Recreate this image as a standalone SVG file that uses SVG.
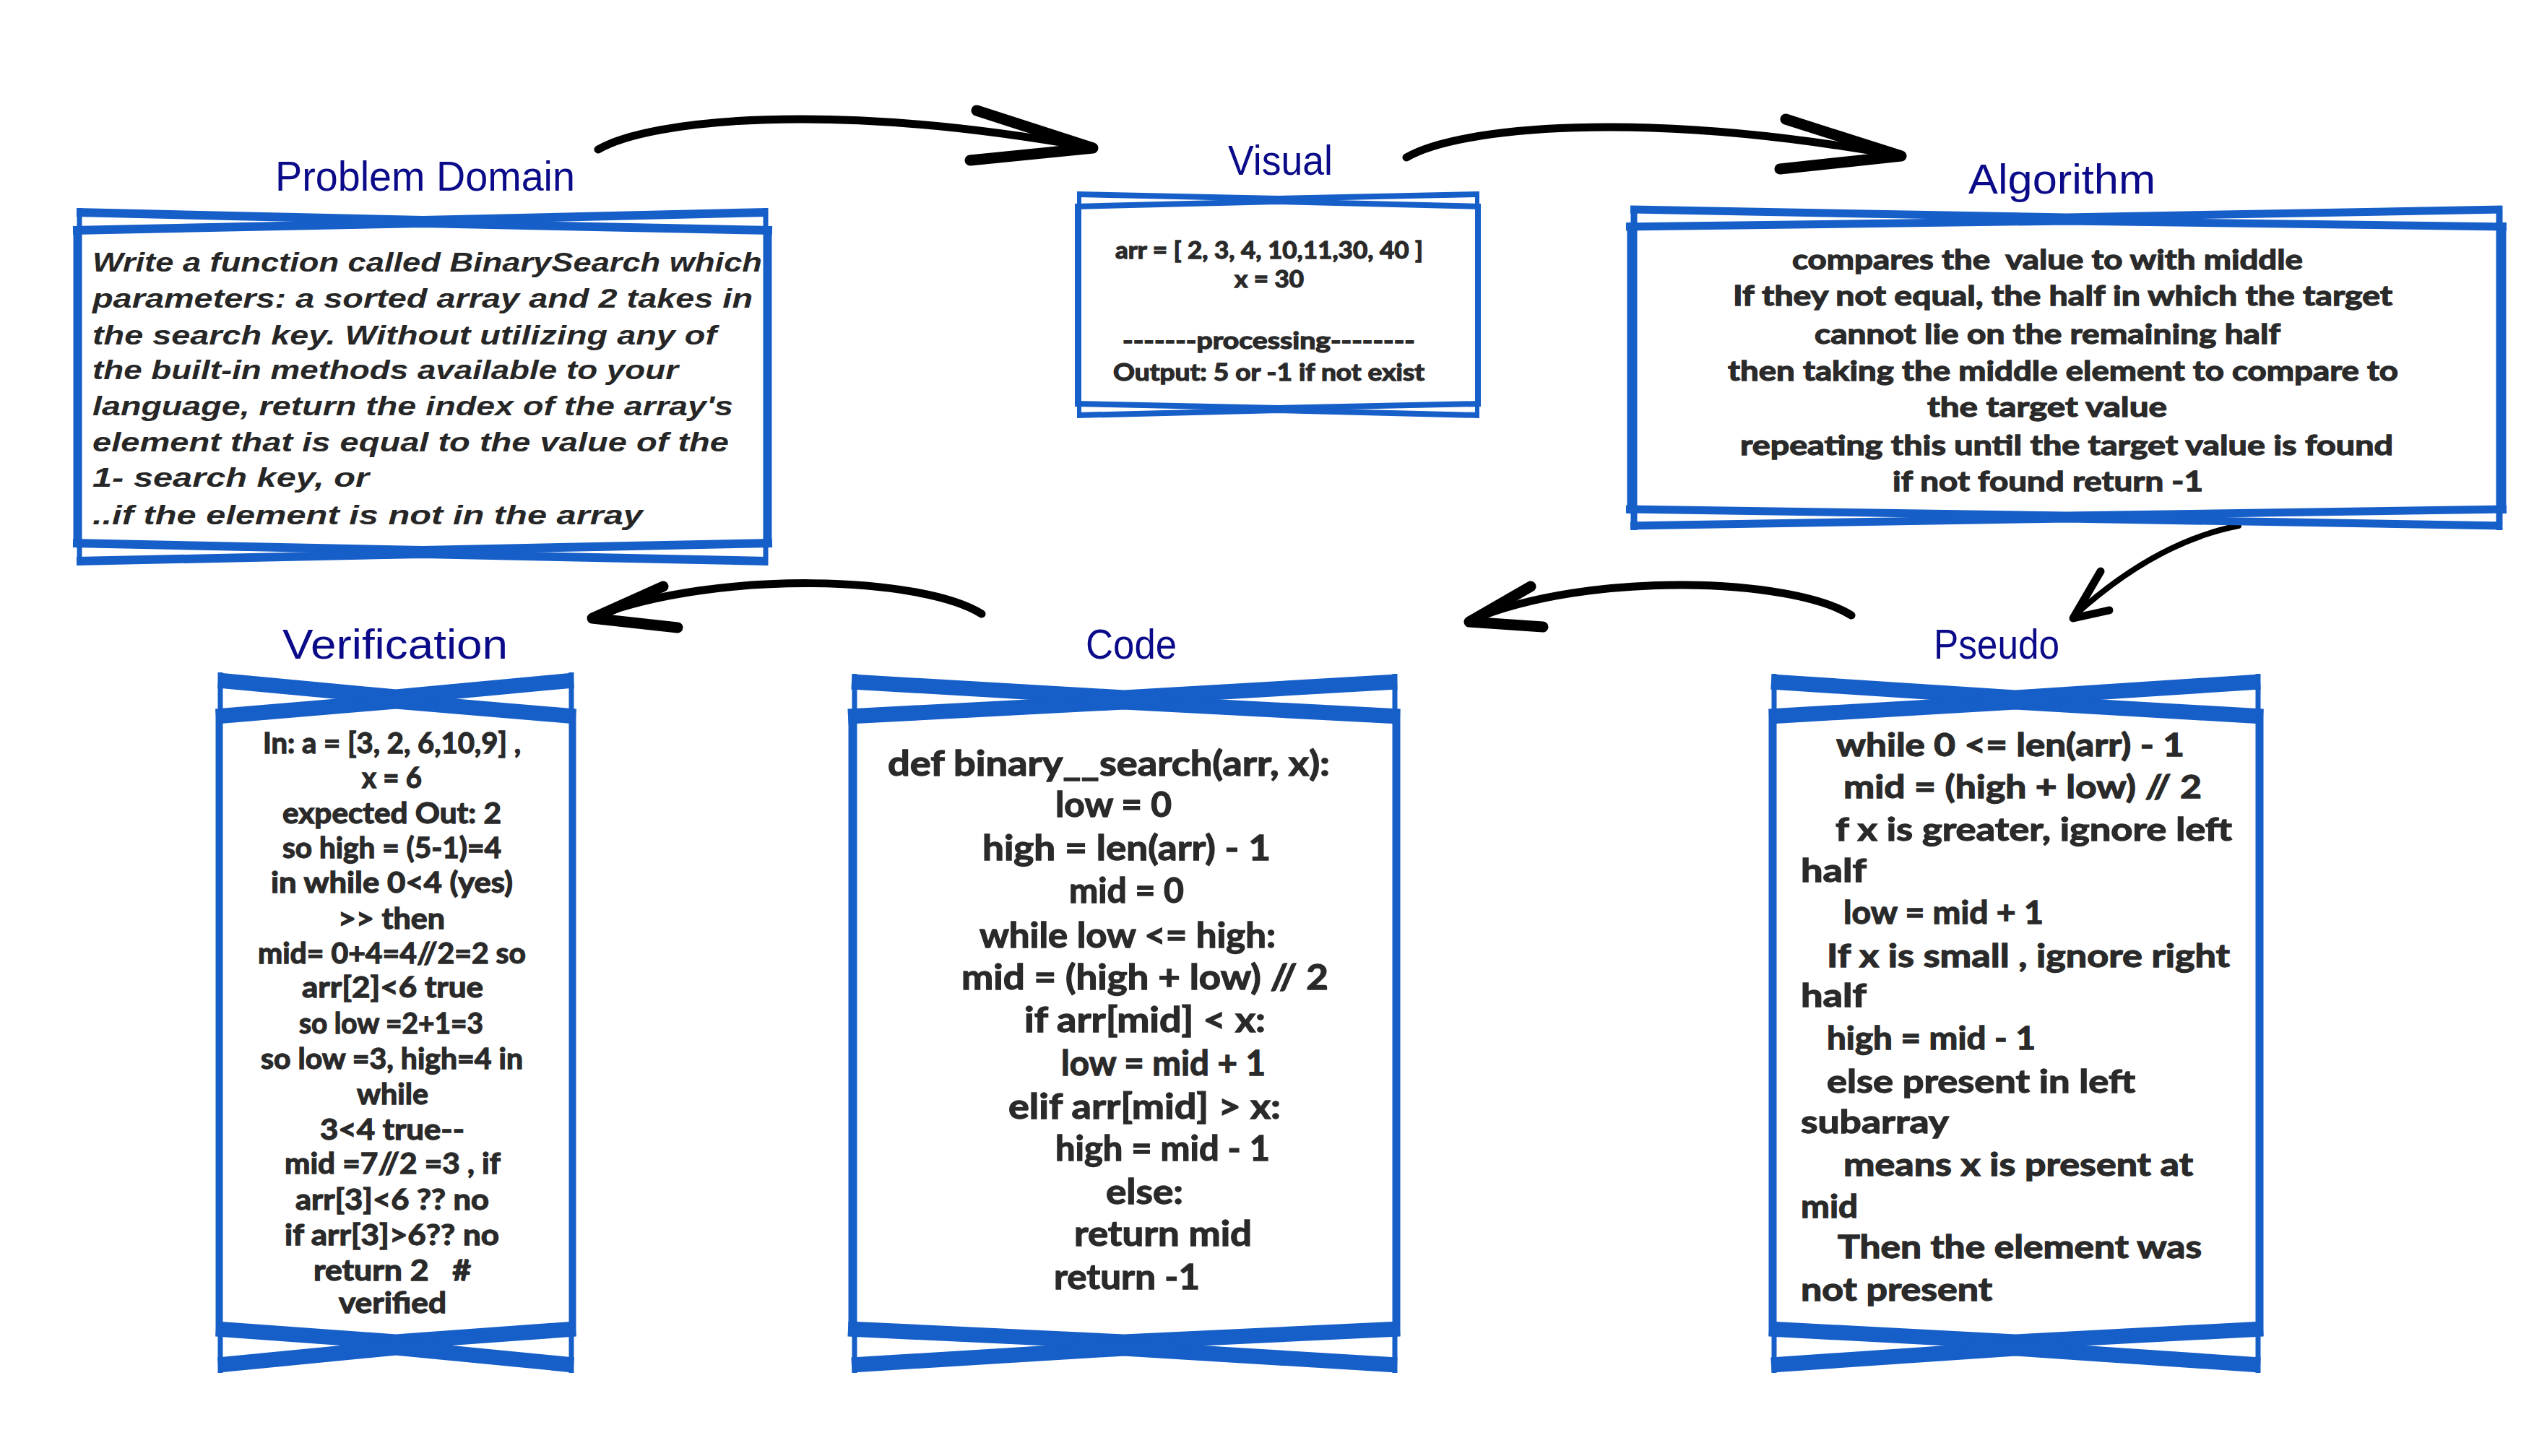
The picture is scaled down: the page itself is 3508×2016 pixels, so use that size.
<svg xmlns="http://www.w3.org/2000/svg" width="3508" height="2016" viewBox="0 0 3508 2016">
<style>
.bg{fill:#ffffff}
.bt{fill:none;stroke:#165ec8;stroke-width:12;stroke-linejoin:round}
.bb{fill:none;stroke:#165ec8;stroke-width:21;stroke-linejoin:round}
.bv{fill:none;stroke:#165ec8;stroke-width:7}
.title{font-family:"Liberation Sans","DejaVu Sans",sans-serif;font-size:57px;fill:#0b0b8a}
.pd{font-family:"Liberation Sans","DejaVu Sans",sans-serif;font-size:37px;font-weight:700;font-style:italic;fill:#262626}
.body{font-family:Lato,"Open Sans","Liberation Sans",sans-serif;font-weight:700;fill:#2a2a2a;stroke:#2a2a2a;stroke-width:1.3}
.shaft{fill:none;stroke:#000;stroke-width:11;stroke-linecap:round;stroke-linejoin:round}
.head{fill:none;stroke:#000;stroke-width:15;stroke-linecap:round;stroke-linejoin:round}
</style>
<rect class="bg" x="0" y="0" width="3508" height="2016"/>

<g id="connectors">
  <g id="arrow-problem-visual">
    <path class="shaft" d="M828,207 C900,165 1150,140 1508,204"/>
    <path class="head" d="M1352,153 L1513,205 L1343,222"/>
  </g>
  <g id="arrow-visual-algorithm">
    <path class="shaft" d="M1947,218 C2019,176 2269,151 2627,215"/>
    <path class="head" d="M2472,165 L2632,216 L2464,234"/>
  </g>
  <g id="arrow-algorithm-pseudo">
    <path class="shaft" style="stroke-width:8" d="M3099,728 Q2985,750 2872,852"/>
    <path class="head" style="stroke-width:11" d="M2908,791 L2870,856 L2920,845"/>
  </g>
  <g id="arrow-pseudo-code">
    <path class="shaft" d="M2563,852 C2480,800 2200,790 2038,858"/>
    <path class="head" d="M2119,812 L2034,861 L2136,868"/>
  </g>
  <g id="arrow-code-verification">
    <path class="shaft" d="M1359,850 C1276,798 996,788 824,853"/>
    <path class="head" d="M918,812 L820,856 L938,869"/>
  </g>
</g>

<g id="node-problem-domain">
  <text class="title" x="381" y="264" textLength="415" lengthAdjust="spacingAndGlyphs">Problem Domain</text>
  <path class="bt" d="M106,294 L585,305 L1063,294"/>
  <path class="bt" d="M101,319 L585,309 L1069,319"/>
  <path class="bt" d="M101,752 L585,762 L1069,752"/>
  <path class="bt" d="M106,777 L585,767 L1063,777"/>
  <path class="bv" d="M110,288 V783 M1060,288 V783 M105,313 V758 M1065,313 V758"/>
  <text class="pd" x="128" y="376" textLength="927" lengthAdjust="spacingAndGlyphs">Write a function called BinarySearch which</text>
  <text class="pd" x="128" y="426" textLength="914" lengthAdjust="spacingAndGlyphs">parameters: a sorted array and 2 takes in</text>
  <text class="pd" x="128" y="477" textLength="864" lengthAdjust="spacingAndGlyphs">the search key. Without utilizing any of</text>
  <text class="pd" x="128" y="525" textLength="811" lengthAdjust="spacingAndGlyphs">the built-in methods available to your</text>
  <text class="pd" x="128" y="575" textLength="887" lengthAdjust="spacingAndGlyphs">language, return the index of the array's</text>
  <text class="pd" x="128" y="625" textLength="881" lengthAdjust="spacingAndGlyphs">element that is equal to the value of the</text>
  <text class="pd" x="128" y="674" textLength="383" lengthAdjust="spacingAndGlyphs">1- search key, or</text>
  <text class="pd" x="128" y="726" textLength="762" lengthAdjust="spacingAndGlyphs">..if the element is not in the array</text>
</g>

<g id="node-visual">
  <text class="title" x="1700" y="242" textLength="145" lengthAdjust="spacingAndGlyphs">Visual</text>
  <path class="bt" style="stroke-width:8" d="M1491,269 L1770,275 L2048,269"/>
  <path class="bt" style="stroke-width:8" d="M1488,286 L1770,279 L2050,286"/>
  <path class="bt" style="stroke-width:8" d="M1488,559 L1770,565 L2050,559"/>
  <path class="bt" style="stroke-width:8" d="M1491,575 L1770,568 L2048,575"/>
  <path class="bv" style="stroke-width:6" d="M1494,266 V578 M2045,266 V578 M1491,283 V562 M2047,283 V562"/>
  <g class="body" font-size="32">
    <text x="1544" y="358" textLength="426" lengthAdjust="spacingAndGlyphs">arr = [ 2, 3, 4, 10,11,30, 40 ]</text>
    <text x="1709" y="398" textLength="96" lengthAdjust="spacingAndGlyphs">x = 30</text>
    <text x="1554" y="483" textLength="405" lengthAdjust="spacingAndGlyphs">-------processing--------</text>
    <text x="1541" y="527" textLength="431" lengthAdjust="spacingAndGlyphs">Output: 5 or -1 if not exist</text>
  </g>
</g>

<g id="node-algorithm">
  <text class="title" x="2725" y="268" textLength="259" lengthAdjust="spacingAndGlyphs">Algorithm</text>
  <path class="bt" style="stroke-width:11" d="M2257,290 L2861,301 L3464,290"/>
  <path class="bt" style="stroke-width:11" d="M2251,314 L2861,306 L3470,314"/>
  <path class="bt" style="stroke-width:11" d="M2251,705 L2861,714 L3470,705"/>
  <path class="bt" style="stroke-width:11" d="M2257,728 L2861,718 L3464,728"/>
  <path class="bv" style="stroke-width:9" d="M2262,285 V734 M3460,285 V734 M2257,308 V711 M3465,308 V711"/>
  <g class="body" font-size="38">
    <text x="2481" y="373" textLength="707" lengthAdjust="spacingAndGlyphs" style="white-space:pre">compares the  value to with middle</text>
    <text x="2399" y="423" textLength="913" lengthAdjust="spacingAndGlyphs">If they not equal, the half in which the target</text>
    <text x="2512" y="476" textLength="645" lengthAdjust="spacingAndGlyphs">cannot lie on the remaining half</text>
    <text x="2392" y="527" textLength="928" lengthAdjust="spacingAndGlyphs">then taking the middle element to compare to</text>
    <text x="2668" y="577" textLength="332" lengthAdjust="spacingAndGlyphs">the target value</text>
    <text x="2409" y="630" textLength="904" lengthAdjust="spacingAndGlyphs">repeating this until the target value is found</text>
    <text x="2620" y="680" textLength="430" lengthAdjust="spacingAndGlyphs">if not found return -1</text>
  </g>
</g>

<g id="node-verification">
  <text class="title" x="391" y="912" textLength="312" lengthAdjust="spacingAndGlyphs">Verification</text>
  <path class="bb" d="M302,942 L548,965 L794,942"/>
  <path class="bb" d="M299,992 L548,971 L797,992"/>
  <path class="bb" d="M299,1840 L548,1858 L797,1840"/>
  <path class="bb" d="M302,1890 L548,1866 L794,1890"/>
  <path class="bv" d="M305,931 V1901 M791,931 V1901 M302,982 V1850 M794,982 V1850"/>
  <g class="body" font-size="40">
    <text x="364" y="1043" textLength="357" lengthAdjust="spacingAndGlyphs">In: a = [3, 2, 6,10,9] ,</text>
    <text x="501" y="1091" textLength="83" lengthAdjust="spacingAndGlyphs">x = 6</text>
    <text x="391" y="1140" textLength="303" lengthAdjust="spacingAndGlyphs">expected Out: 2</text>
    <text x="391" y="1188" textLength="303" lengthAdjust="spacingAndGlyphs">so high = (5-1)=4</text>
    <text x="375" y="1236" textLength="335" lengthAdjust="spacingAndGlyphs">in while 0&lt;4 (yes)</text>
    <text x="468" y="1286" textLength="148" lengthAdjust="spacingAndGlyphs">&gt;&gt; then</text>
    <text x="357" y="1334" textLength="371" lengthAdjust="spacingAndGlyphs">mid= 0+4=4//2=2 so</text>
    <text x="418" y="1381" textLength="251" lengthAdjust="spacingAndGlyphs">arr[2]&lt;6 true</text>
    <text x="414" y="1431" textLength="255" lengthAdjust="spacingAndGlyphs">so low =2+1=3</text>
    <text x="361" y="1480" textLength="363" lengthAdjust="spacingAndGlyphs">so low =3, high=4 in</text>
    <text x="494" y="1529" textLength="99" lengthAdjust="spacingAndGlyphs">while</text>
    <text x="443" y="1578" textLength="200" lengthAdjust="spacingAndGlyphs">3&lt;4 true--</text>
    <text x="394" y="1625" textLength="299" lengthAdjust="spacingAndGlyphs">mid =7//2 =3 , if</text>
    <text x="409" y="1675" textLength="268" lengthAdjust="spacingAndGlyphs">arr[3]&lt;6 ?? no</text>
    <text x="394" y="1724" textLength="297" lengthAdjust="spacingAndGlyphs">if arr[3]&gt;6?? no</text>
    <text x="434" y="1773" textLength="218" lengthAdjust="spacingAndGlyphs" style="white-space:pre">return 2   #</text>
    <text x="469" y="1818" textLength="149" lengthAdjust="spacingAndGlyphs">verified</text>
  </g>
</g>

<g id="node-code">
  <text class="title" x="1503" y="912" textLength="126" lengthAdjust="spacingAndGlyphs">Code</text>
  <path class="bb" d="M1179,944 L1556,966 L1934,944"/>
  <path class="bb" d="M1174,992 L1556,972 L1938,992"/>
  <path class="bb" d="M1174,1840 L1556,1858 L1938,1840"/>
  <path class="bb" d="M1179,1890 L1556,1867 L1934,1890"/>
  <path class="bv" d="M1183,933 V1901 M1931,933 V1901 M1178,982 V1850 M1935,982 V1850"/>
  <g class="body" font-size="48">
    <text x="1229" y="1074" textLength="612" lengthAdjust="spacingAndGlyphs">def binary__search(arr, x):</text>
    <text x="1461" y="1131" textLength="161" lengthAdjust="spacingAndGlyphs">low = 0</text>
    <text x="1360" y="1191" textLength="399" lengthAdjust="spacingAndGlyphs">high = len(arr) - 1</text>
    <text x="1480" y="1250" textLength="159" lengthAdjust="spacingAndGlyphs">mid = 0</text>
    <text x="1356" y="1312" textLength="410" lengthAdjust="spacingAndGlyphs">while low &lt;= high:</text>
    <text x="1331" y="1370" textLength="508" lengthAdjust="spacingAndGlyphs">mid = (high + low) // 2</text>
    <text x="1418" y="1429" textLength="334" lengthAdjust="spacingAndGlyphs">if arr[mid] &lt; x:</text>
    <text x="1469" y="1489" textLength="283" lengthAdjust="spacingAndGlyphs">low = mid + 1</text>
    <text x="1396" y="1549" textLength="377" lengthAdjust="spacingAndGlyphs">elif arr[mid] &gt; x:</text>
    <text x="1461" y="1607" textLength="297" lengthAdjust="spacingAndGlyphs">high = mid - 1</text>
    <text x="1531" y="1667" textLength="107" lengthAdjust="spacingAndGlyphs">else:</text>
    <text x="1487" y="1725" textLength="246" lengthAdjust="spacingAndGlyphs">return mid</text>
    <text x="1459" y="1785" textLength="202" lengthAdjust="spacingAndGlyphs">return -1</text>
  </g>
</g>

<g id="node-pseudo">
  <text class="title" x="2677" y="912" textLength="174" lengthAdjust="spacingAndGlyphs">Pseudo</text>
  <path class="bb" d="M2452,944 L2790,966 L3129,944"/>
  <path class="bb" d="M2449,992 L2790,972 L3133,992"/>
  <path class="bb" d="M2449,1840 L2790,1858 L3133,1840"/>
  <path class="bb" d="M2452,1890 L2790,1867 L3129,1890"/>
  <path class="bv" d="M2456,933 V1901 M3126,933 V1901 M2452,982 V1850 M3130,982 V1850"/>
  <g class="body" font-size="44">
    <text x="2542" y="1047" textLength="482" lengthAdjust="spacingAndGlyphs">while 0 &lt;= len(arr) - 1</text>
    <text x="2552" y="1105" textLength="496" lengthAdjust="spacingAndGlyphs">mid = (high + low) // 2</text>
    <text x="2541" y="1164" textLength="549" lengthAdjust="spacingAndGlyphs">f x is greater, ignore left</text>
    <text x="2493" y="1221" textLength="91" lengthAdjust="spacingAndGlyphs">half</text>
    <text x="2552" y="1279" textLength="277" lengthAdjust="spacingAndGlyphs">low = mid + 1</text>
    <text x="2529" y="1339" textLength="558" lengthAdjust="spacingAndGlyphs">If x is small , ignore right</text>
    <text x="2493" y="1394" textLength="91" lengthAdjust="spacingAndGlyphs">half</text>
    <text x="2529" y="1453" textLength="289" lengthAdjust="spacingAndGlyphs">high = mid - 1</text>
    <text x="2529" y="1513" textLength="427" lengthAdjust="spacingAndGlyphs">else present in left</text>
    <text x="2493" y="1569" textLength="205" lengthAdjust="spacingAndGlyphs">subarray</text>
    <text x="2552" y="1628" textLength="484" lengthAdjust="spacingAndGlyphs">means x is present at</text>
    <text x="2493" y="1686" textLength="79" lengthAdjust="spacingAndGlyphs">mid</text>
    <text x="2544" y="1742" textLength="504" lengthAdjust="spacingAndGlyphs">Then the element was</text>
    <text x="2493" y="1801" textLength="265" lengthAdjust="spacingAndGlyphs">not present</text>
  </g>
</g>
</svg>
